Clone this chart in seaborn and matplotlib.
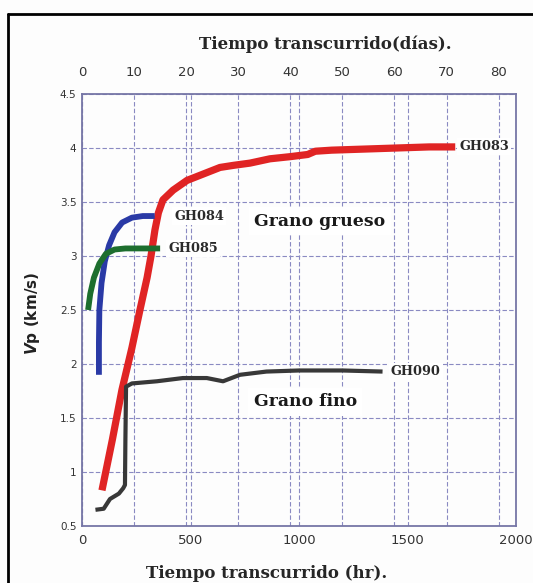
import numpy as np
import pandas as pd
import seaborn as sns
import matplotlib.pyplot as plt
from matplotlib.lines import Line2D

# Velocidad de onda P frente al tiempo de curado (horas)
gh083_hr = [92, 140, 184, 230, 267, 300, 318, 336, 352, 373, 420, 484, 560, 636, 700, 774, 866, 960, 1040, 1075, 1150, 1300, 1450, 1600, 1720]
gh083_vp = [0.83, 1.30, 1.76, 2.15, 2.50, 2.80, 3.00, 3.24, 3.40, 3.52, 3.61, 3.70, 3.76, 3.82, 3.84, 3.86, 3.90, 3.92, 3.94, 3.97, 3.98, 3.99, 4.00, 4.01, 4.01]

gh084_hr = [78, 78, 80, 90, 105, 125, 150, 185, 230, 280, 335]
gh084_vp = [1.90, 2.20, 2.50, 2.75, 2.95, 3.10, 3.22, 3.31, 3.355, 3.37, 3.37]

gh085_hr = [28, 38, 55, 80, 110, 150, 200, 280, 360]
gh085_vp = [2.50, 2.65, 2.80, 2.93, 3.02, 3.06, 3.07, 3.07, 3.07]

gh090_hr = [62, 100, 129, 170, 190, 198, 200, 203, 230, 345, 465, 575, 650, 728, 850, 1000, 1200, 1385]
gh090_vp = [0.65, 0.66, 0.75, 0.80, 0.85, 0.88, 1.30, 1.79, 1.82, 1.84, 1.87, 1.87, 1.84, 1.90, 1.93, 1.94, 1.94, 1.93]

series = {"GH083": (gh083_hr, gh083_vp), "GH084": (gh084_hr, gh084_vp),
          "GH085": (gh085_hr, gh085_vp), "GH090": (gh090_hr, gh090_vp)}
colors = {"GH083": "#e02424", "GH084": "#2a3aa6", "GH085": "#1d6e2e", "GH090": "#383838"}
widths = {"GH083": 5.2, "GH084": 4.2, "GH085": 4.2, "GH090": 3.0}
label_offsets = {"GH083": (3, 0), "GH084": (14, 0), "GH085": (6, 0), "GH090": (6, 0)}

hour_ticks = [0, 500, 1000, 1500, 2000]
day_ticks = [0, 10, 20, 30, 40, 50, 60, 70, 80]
vp_ticks = [0.5, 1, 1.5, 2, 2.5, 3, 3.5, 4, 4.5]
vp_ticklabels = ["0.5", "1", "1.5", "2", "2.5", "3", "3.5", "4", "4.5"]

df = pd.concat([pd.DataFrame({"hr": h, "vp": v, "muestra": k}) for k, (h, v) in series.items()],
               ignore_index=True)

sns.set_style("white")
plt.rcParams["mathtext.fontset"] = "custom"
plt.rcParams["mathtext.it"] = "DejaVu Sans:italic:bold"
serif = ["DejaVu Serif"]
grid_kw = dict(color="#8a8ac2", linestyle=(0, (4, 2)), linewidth=0.8)
spine_col = "#7676a6"

fig = plt.figure(figsize=(5.33, 5.83), dpi=100)
fig.patch.set_facecolor("#fdfdfd")
ax = fig.add_axes([82 / 533, 1 - 526 / 583, (516 - 82) / 533, (526 - 94) / 583])

# eje superior en días
ax2 = ax.twiny()
ax2.set_xlim(0, 2000 / 24)
ax2.set_xticks(day_ticks)
ax2.grid(True, axis="x", **grid_kw)
ax2.tick_params(axis="x", length=0, pad=11, labelsize=9.5, labelcolor="#333333")
ax2.set_xlabel("Tiempo transcurrido(días).", family=serif, fontweight="bold", fontsize=12)
ax2.xaxis.set_label_coords(0.56, 1.095)
ax2.xaxis.label.set_va("bottom")
for s in ax2.spines.values():
    s.set_visible(False)

ax.set_zorder(ax2.get_zorder() + 1)
ax.patch.set_visible(False)

sns.lineplot(data=df, x="hr", y="vp", hue="muestra", palette=colors, size="muestra", sizes=widths,
             sort=False, estimator=None, legend=False, ax=ax)
for ln in ax.get_lines():
    ln.set_solid_capstyle("butt")

ax.set_xlim(0, 2000)
ax.set_ylim(0.5, 4.5)
ax.set_xticks(hour_ticks)
ax.set_yticks(vp_ticks)
ax.set_yticklabels(vp_ticklabels)
ax.grid(True, **grid_kw)
ax.tick_params(axis="x", length=0, pad=6, labelsize=9.5, labelcolor="#333333")
ax.tick_params(axis="y", length=0, pad=4, labelsize=7.5, labelcolor="#333333")
for s in ax.spines.values():
    s.set_color(spine_col)
    s.set_linewidth(1.3)

ax.set_xlabel("Tiempo transcurrido (hr).", family=serif, fontweight="bold", fontsize=12)
ax.xaxis.set_label_coords(0.426, -0.09)
ax.xaxis.label.set_va("top")
ax.set_ylabel("")
fig.text(33 / 533, 1 - 313 / 583, r"$\mathit{V}$p (km/s)", rotation=90, ha="center",
         va="center", fontweight="bold", fontsize=11, color="#222222")

box = dict(facecolor="white", edgecolor="none", pad=1.5)
for k, (h, v) in series.items():
    ax.annotate(k, xy=(h[-1], v[-1]), xytext=label_offsets[k], textcoords="offset points",
                ha="left", va="center", family=serif, fontweight="bold", fontsize=9.3,
                color="#2a2a2a", bbox=box)

ax.text(1097, 3.32, "Grano grueso", ha="center", va="center", family=serif, fontweight="bold",
        fontsize=12.4, color="#1a1a1a", bbox=dict(facecolor="white", edgecolor="none", pad=4))
ax.text(1028, 1.65, "Grano fino", ha="center", va="center", family=serif, fontweight="bold",
        fontsize=12.4, color="#1a1a1a", bbox=dict(facecolor="white", edgecolor="none", pad=4))

# marco de la figura
fig.add_artist(Line2D([8 / 533, 8 / 533], [0, 1 - 14 / 583], transform=fig.transFigure,
                      color="black", lw=2))
fig.add_artist(Line2D([8 / 533, 1], [1 - 14 / 583, 1 - 14 / 583], transform=fig.transFigure,
                      color="black", lw=2))

fig.savefig("out.png", dpi=100, facecolor=fig.get_facecolor())
